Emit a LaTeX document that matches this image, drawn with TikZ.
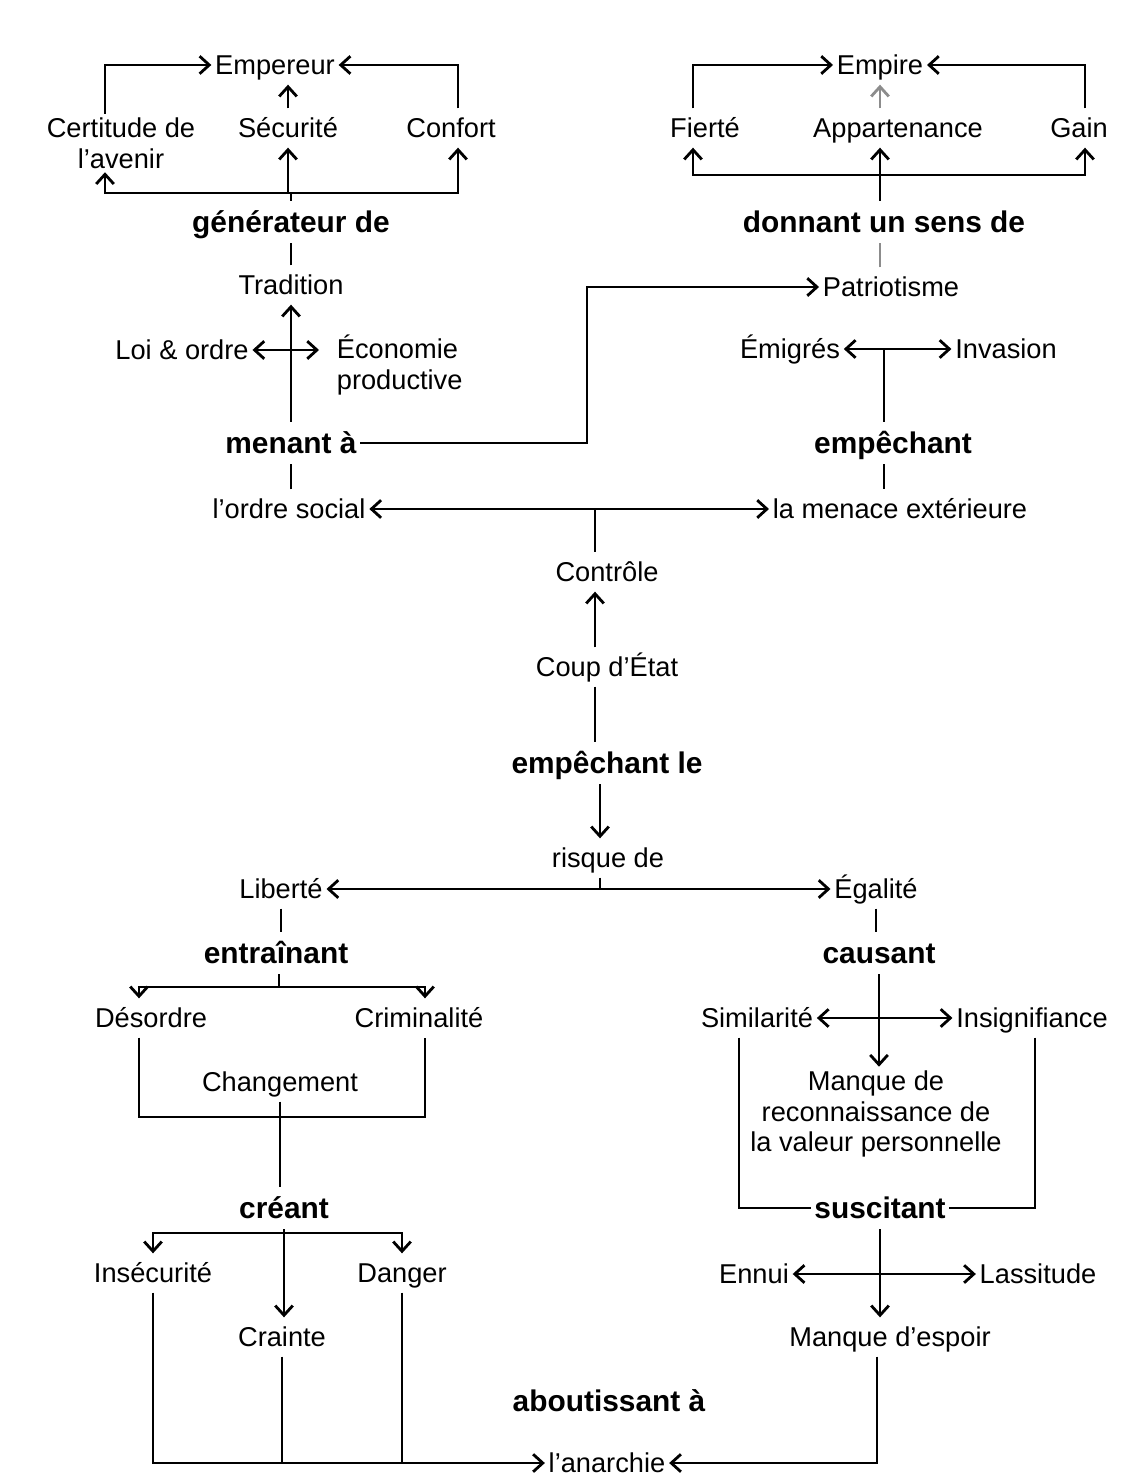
\documentclass[tikz,border=0pt]{standalone}
\usepackage{fontspec}
\setmainfont{Liberation Sans}
\usetikzlibrary{calc,arrows.meta}

\begin{document}
\begin{tikzpicture}[x = 0.02cm, y = -0.02cm,
  bloc/.style = {font = \fontsize{15.5}{17.5}\selectfont, inner sep = 2pt, align = center},
  txt/.style = {bloc, text height = 14.5pt, text depth = 3.5pt},
  verbe/.style = {font = \fontsize{17}{19}\selectfont\bfseries, inner sep = 2pt, text height = 16pt, text depth = 3.8pt},
  trait/.style = {line width = 1.6pt},
  fl/.style = {trait, -{Straight Barb[length = 5.5pt, width = 10pt]}},
  dfl/.style = {trait, {Straight Barb[length = 5.5pt, width = 10pt]}-{Straight Barb[length = 5.5pt, width = 10pt]}},
  gris/.style = {color = black!45}]
%\draw[very thin, color = gray](0, 0) grid[step = 100] (1138, 1476);
\useasboundingbox (0, 0) rectangle (1138, 1476);
% haut gauche
\node (empereur) at (275, 65) [txt] {Empereur};
\node (certitude) at (121, 143) [bloc] {Certitude de\\l'avenir};
\node (securite) at (288, 128) [txt] {Sécurité};
\node (confort) at (451, 128) [txt] {Confort};
\node (generateur) at (291, 222) [verbe] {générateur de};
\node (tradition) at (291, 285) [txt] {Tradition};
\node (loi) at (182, 350) [txt] {Loi \& ordre};
\node (economie) at (333, 365) [bloc, anchor = west, align = left] {Économie\\productive};
\node (menant) at (291, 443) [verbe] {menant à};
\node (ordre) at (289, 509) [txt] {l'ordre social};
% haut droite
\node (empire) at (880, 65) [txt] {Empire};
\node (fierte) at (705, 128) [txt] {Fierté};
\node (appartenance) at (898, 128) [txt] {Appartenance};
\node (gain) at (1079, 128) [txt] {Gain};
\node (donnant) at (884, 222) [verbe] {donnant un sens de};
\node (patriotisme) at (891, 287) [txt] {Patriotisme};
\node (emigres) at (790, 349) [txt] {Émigrés};
\node (invasion) at (1006, 349) [txt] {Invasion};
\node (empechant) at (893, 443) [verbe] {empêchant};
\node (menace) at (900, 509) [txt] {la menace extérieure};
% milieu
\node (controle) at (607, 572) [txt] {Contrôle};
\node (coup) at (607, 667) [txt] {Coup d'État};
\node (empechantle) at (607, 763) [verbe] {empêchant le};
\node (risque) at (608, 858) [txt] {risque de};
\node (liberte) at (281, 889) [txt] {Liberté};
\node (egalite) at (876, 889) [txt] {Égalité};
% bas gauche
\node (entrainant) at (276, 953) [verbe] {entraînant};
\node (desordre) at (151, 1018) [txt] {Désordre};
\node (criminalite) at (419, 1018) [txt] {Criminalité};
\node (changement) at (280, 1082) [txt] {Changement};
\node (creant) at (284, 1208) [verbe] {créant};
\node (insecurite) at (153, 1273) [txt] {Insécurité};
\node (danger) at (402, 1273) [txt] {Danger};
\node (crainte) at (282, 1337) [txt] {Crainte};
\node (aboutissant) at (609, 1401) [verbe] {aboutissant à};
\node (anarchie) at (607, 1463) [txt] {l'anarchie};
% bas droite
\node (causant) at (879, 953) [verbe] {causant};
\node (similarite) at (757, 1018) [txt] {Similarité};
\node (insignifiance) at (1032, 1018) [txt] {Insignifiance};
\node (manque) at (876, 1114) [bloc] {Manque de\\reconnaissance de\\la valeur personnelle};
\node (suscitant) at (880, 1208) [verbe] {suscitant};
\node (ennui) at (754, 1274) [txt] {Ennui};
\node (lassitude) at (1038, 1274) [txt] {Lassitude};
\node (espoir) at (890, 1337) [txt] {Manque d'espoir};

\coordinate (busgen) at (291, 193);
\coordinate (coude) at (587, 287);
\coordinate (busordre) at (595, 509);
\coordinate (busdon) at (880, 175);
\coordinate (busemi) at (884, 349);
\coordinate (busrisque) at (600, 889);
\coordinate (busentr) at (279, 987);
\coordinate (boite) at (283, 1117);
\coordinate (buscre) at (284, 1233);

% haut gauche
\draw [fl] ([xshift = -0.32cm] certitude.north) |- (empereur.west);
\draw [fl] ([xshift = 0.14cm] confort.north) |- (empereur.east);
\draw [fl] (securite.north) -- (securite.north |- empereur.south);
\draw [trait] (generateur) -- (busgen);
\draw [fl] (busgen) -| ([xshift = -0.32cm] certitude.south);
\draw [fl] (busgen -| securite) -- (securite.south);
\draw [fl] (busgen) -| ([xshift = 0.14cm] confort.south);
\draw [trait] (tradition) -- (generateur);
\draw [fl] (menant) -- (tradition);
\draw [dfl, shorten >= 0.28cm] (loi.east) -- (loi.east -| economie.west);
\draw [trait] (menant |- ordre.north) -- (menant.south);
\draw [fl] (menant.east) -| (coude) -- (patriotisme.west);
\draw [dfl] (ordre) -- (menace);
\draw [trait] (busordre) -- (busordre |- controle.north);
% haut droite
\draw [fl] ([xshift = -0.24cm] fierte.north) |- (empire.west);
\draw [fl] ([xshift = 0.12cm] gain.north) |- (empire.east);
\draw [fl, gris] (appartenance.north -| empire) -- (empire.south);
\draw [trait] (busdon |- donnant.north) -- (busdon);
\draw [fl] (busdon) -| ([xshift = -0.24cm] fierte.south);
\draw [fl] (busdon) -| ([xshift = 0.12cm] gain.south);
\draw [fl] (busdon) -- (busdon |- appartenance.south);
\draw [trait, gris] (busdon |- patriotisme.north) -- (busdon |- donnant.south);
\draw [dfl] (emigres) -- (invasion);
\draw [trait] (busemi) -- (busemi |- empechant.north);
\draw [trait] (busemi |- empechant.south) -- (busemi |- menace.north);
% milieu
\draw [fl] ([xshift = -0.24cm] coup.north) -- ([xshift = -0.24cm] controle.south);
\draw [trait] ([xshift = -0.24cm] coup.south) -- ([xshift = -0.24cm] empechantle.north);
\draw [fl] (busrisque |- empechantle.south) -- (busrisque |- risque.north);
\draw [trait] (busrisque |- risque.south) -- (busrisque);
\draw [dfl] (liberte) -- (egalite);
% bas gauche
\draw [trait] (liberte.south) -- (liberte.south |- entrainant.north);
\draw [trait] (busentr |- entrainant.south) -- (busentr);
\draw [fl] (busentr) -| ([xshift = -0.24cm] desordre.north);
\draw [fl] (busentr) -| ([xshift = 0.12cm] criminalite.north);
\draw [trait] ([xshift = -0.24cm] desordre.south) |- (boite) -| ([xshift = 0.12cm] criminalite.south);
\draw [trait] (changement.south) -- (changement.south |- creant.north);
\draw [fl] (creant.south) -- (creant.south |- crainte.north);
\draw [fl] (buscre) -| (insecurite.north);
\draw [fl] (buscre) -| (danger.north);
\draw [fl] (insecurite.south) |- (anarchie.west);
\draw [trait] (crainte.south) -- (crainte.south |- anarchie.west);
\draw [trait] (danger.south) -- (danger.south |- anarchie.west);
\draw [fl] ([xshift = -0.26cm] espoir.south) |- (anarchie.east);
% bas droite
\draw [trait] (egalite.south) -- (egalite.south |- causant.north);
\draw [fl] (causant.south) -- (causant.south |- manque.north);
\draw [dfl] (similarite) -- (insignifiance);
\draw [trait] ([xshift = -0.36cm] similarite.south) |- (suscitant.west);
\draw [trait] ([xshift = 0.06cm] insignifiance.south) |- (suscitant.east);
\draw [fl] (suscitant.south) -- (suscitant.south |- espoir.north);
\draw [dfl] (ennui) -- (lassitude);
\end{tikzpicture}
\end{document}
